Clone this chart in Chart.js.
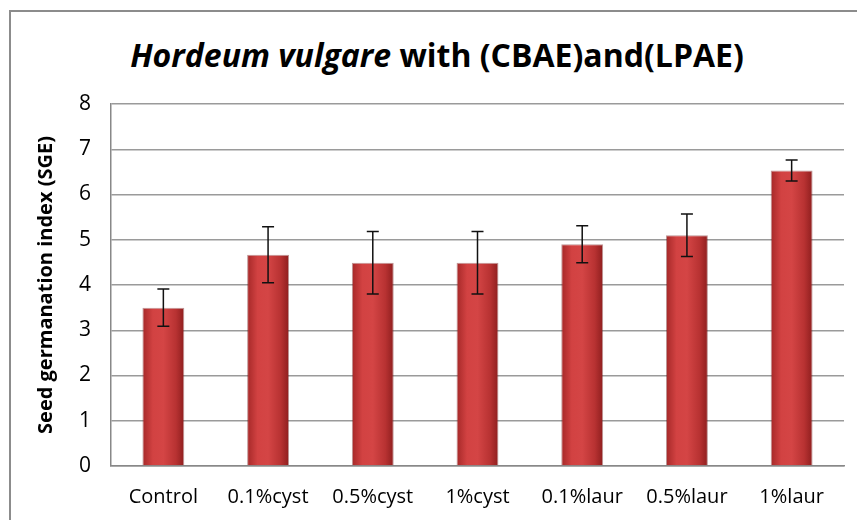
<!DOCTYPE html>
<html lang="en">
<head>
  <meta charset="UTF-8" />
  <title>Hordeum vulgare SGE</title>
  <script src="https://cdn.jsdelivr.net/npm/chart.js"></script>
  <style>
    html, body {
      margin: 0;
      padding: 0;
      background: #fff;
      overflow: hidden;
    }
    .wrap {
      position: relative;
      width: 857px;
      height: 520px;
    }
    .frame {
      position: absolute;
      left: 9px;
      top: 10px;
      width: 900px;
      height: 560px;
      border: 2px solid #8c8c8c;
      box-sizing: border-box;
    }
    .title {
      position: absolute;
      left: 0;
      top: 34px;
      width: 874px;
      text-align: center;
      font-family: "Open Sans", sans-serif;
      font-weight: bold;
      font-size: 32px;
      color: #000;
      line-height: 42px;
    }
    canvas {
      position: absolute;
      left: 0;
      top: 0;
    }
  </style>
</head>
<body>
  <div class="wrap">
    <div class="frame"></div>
    <div class="title"><i>Hordeum vulgare</i> with (CBAE)and(LPAE)</div>
    <canvas id="chart" width="857" height="520"></canvas>
  </div>

  <script>
    // data
    const categories = ['Control', '0.1%cyst', '0.5%cyst', '1%cyst', '0.1%laur', '0.5%laur', '1%laur'];
    const sgeValues = [3.5, 4.67, 4.49, 4.49, 4.9, 5.1, 6.53];
    const sgeErrors = [0.41, 0.62, 0.69, 0.69, 0.41, 0.47, 0.23];
    const yTicks = [0, 1, 2, 3, 4, 5, 6, 7, 8];

    const catPct = 0.5, barPct = 0.8;

    // horizontal shading so bars look like the rounded office bars
    function barFill(ctx) {
      const chart = ctx.chart;
      const xs = chart.scales.x;
      if (!chart.chartArea || !xs || ctx.dataIndex === undefined) return '#c83a3a';
      const cx = xs.getPixelForValue(ctx.dataIndex);
      const w = chart.chartArea.width / categories.length * catPct * barPct;
      if (!isFinite(cx)) return '#c83a3a';
      const g = chart.ctx.createLinearGradient(cx - w / 2, 0, cx + w / 2, 0);
      g.addColorStop(0, '#a52828');
      g.addColorStop(0.25, '#d24242');
      g.addColorStop(0.5, '#d44545');
      g.addColorStop(0.8, '#b83232');
      g.addColorStop(1, '#8e1e1e');
      return g;
    }

    // error bars drawn through the y scale
    const errorBars = {
      id: 'errorBars',
      afterDatasetsDraw(chart) {
        const c = chart.ctx;
        const meta = chart.getDatasetMeta(0);
        const y = chart.scales.y;
        c.save();
        c.strokeStyle = '#111';
        c.lineWidth = 1.5;
        meta.data.forEach((bar, i) => {
          const top = y.getPixelForValue(sgeValues[i] + sgeErrors[i]);
          const bot = y.getPixelForValue(sgeValues[i] - sgeErrors[i]);
          c.beginPath();
          c.moveTo(bar.x, top); c.lineTo(bar.x, bot);
          c.moveTo(bar.x - 6, top); c.lineTo(bar.x + 6, top);
          c.moveTo(bar.x - 6, bot); c.lineTo(bar.x + 6, bot);
          c.stroke();
        });
        c.restore();
      }
    };

    new Chart(document.getElementById('chart'), {
      type: 'bar',
      data: {
        labels: categories,
        datasets: [{
          data: sgeValues,
          backgroundColor: barFill,
          borderColor: 'rgba(110,20,20,0.45)',
          borderWidth: 1,
          barPercentage: barPct,
          categoryPercentage: catPct
        }]
      },
      options: {
        responsive: false,
        animation: false,
        events: [],
        layout: { padding: { top: 104, right: 13, left: 10, bottom: 0 } },
        plugins: {
          legend: { display: false },
          title: { display: false },
          tooltip: { enabled: false }
        },
        scales: {
          x: {
            grid: { display: false, drawTicks: false },
            border: { color: '#888', width: 1.5 },
            ticks: {
              padding: 19,
              color: '#000',
              font: { family: '"Open Sans", sans-serif', size: 20 }
            },
            afterFit(scale) { scale.height = 54; }
          },
          y: {
            min: 0,
            max: 8,
            afterBuildTicks(scale) { scale.ticks = yTicks.map(v => ({ value: v })); },
            grid: { color: '#9a9a9a', lineWidth: 1.5, drawTicks: false },
            border: { color: '#888', width: 1.5 },
            ticks: {
              padding: 20,
              color: '#000',
              font: { family: '"Open Sans", sans-serif', size: 21 }
            },
            title: {
              display: true,
              text: 'Seed germanation index (SGE)',
              color: '#000',
              padding: { top: 24, bottom: 0 },
              font: { family: '"Open Sans", sans-serif', size: 20, weight: 'bold' }
            },
            afterFit(scale) { scale.width = 101; }
          }
        }
      },
      plugins: [errorBars]
    });
  </script>
</body>
</html>
